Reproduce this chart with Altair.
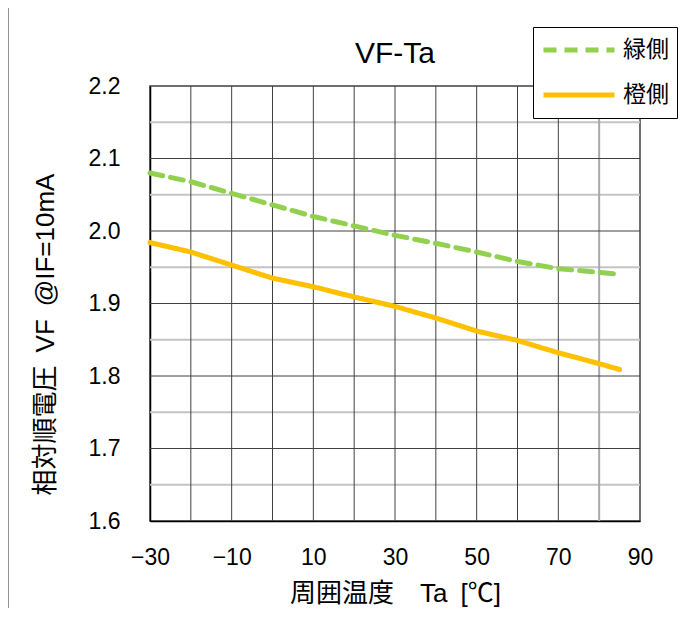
import altair as alt
import pandas as pd

# ---- data ----
ta = [-30, -20, -10, 0, 10, 20, 30, 40, 50, 60, 70, 80, 85]
vf_green = [2.080, 2.068, 2.052, 2.036, 2.020, 2.007, 1.994, 1.983, 1.971, 1.958, 1.948, 1.943, 1.940]
vf_orange = [1.984, 1.971, 1.953, 1.935, 1.923, 1.909, 1.896, 1.880, 1.862, 1.849, 1.832, 1.817, 1.809]
series = ["緑側", "橙側"]
colors = ["#92D050", "#FFC000"]

x_ticks = [-30, -10, 10, 30, 50, 70, 90]
y_ticks = [1.6, 1.7, 1.8, 1.9, 2.0, 2.1, 2.2]
x_grid_dark = [-20, -10, 0, 10, 20, 30, 40, 50, 60, 70]
x_grid_light = [80]
y_grid_major = [1.7, 1.8, 1.9, 2.0, 2.1]
y_grid_minor = [1.65, 1.75, 1.85, 1.95, 2.05, 2.15]

FONT = "Liberation Sans, Arial, Noto Sans CJK JP, sans-serif"

df = pd.DataFrame(
    [{"Ta": t, "VF": v, "s": series[0]} for t, v in zip(ta, vf_green)]
    + [{"Ta": t, "VF": v, "s": series[1]} for t, v in zip(ta, vf_orange)]
)

xs = alt.Scale(domain=[-30, 90], nice=False, zero=False)
ys = alt.Scale(domain=[1.6, 2.2], nice=False, zero=False)

xaxis = alt.Axis(values=x_ticks, title="周囲温度\u3000Ta\u2002[℃]", grid=False, ticks=False, labelFlush=False,
                 labelPadding=25, titlePadding=11, domainColor="#000000", domainWidth=1.5)
yaxis = alt.Axis(values=y_ticks, format=".1f", title="相対順電圧\u2002VF\u2002@IF=10mA", grid=False,
                 ticks=False, labelPadding=30, titlePadding=30, titleY=248,
                 domainColor="#000000", domainWidth=1.5)

def vgrid(vals, color, width):
    return alt.Chart(pd.DataFrame({"Ta": vals})).mark_rule(color=color, strokeWidth=width).encode(
        x=alt.X("Ta:Q", scale=xs, axis=xaxis)
    )

def hgrid(vals, color, width):
    return alt.Chart(pd.DataFrame({"VF": vals})).mark_rule(color=color, strokeWidth=width).encode(
        y=alt.Y("VF:Q", scale=ys, axis=yaxis)
    )

grid = (
    hgrid(y_grid_minor, "#c4c4c4", 2)
    + vgrid(x_grid_light, "#a8a8a8", 2)
    + vgrid(x_grid_dark, "#404040", 1)
    + hgrid(y_grid_major, "#404040", 1)
)

leg = alt.Legend(orient="none", legendX=383, legendY=-59)
lines = alt.Chart(df).mark_line(strokeWidth=5, strokeCap="round", strokeJoin="round").encode(
    x=alt.X("Ta:Q", scale=xs, axis=xaxis),
    y=alt.Y("VF:Q", scale=ys, axis=yaxis),
    color=alt.Color("s:N", scale=alt.Scale(domain=series, range=colors), title=None, legend=leg),
    strokeDash=alt.StrokeDash("s:N", scale=alt.Scale(domain=series, range=[[13, 8], [1, 0]]), title=None, legend=leg),
    order=alt.Order("Ta:Q"),
)

# outer frame (decorative, left / top / right edges)
frame = (
    alt.Chart().mark_rule(color="#707070", strokeWidth=1.5).encode(x=alt.value(-142), y=alt.value(-79), y2=alt.value(530))
    + alt.Chart().mark_rule(color="#404040", strokeWidth=1.5).encode(x=alt.value(-142), x2=alt.value(537), y=alt.value(-79))
    + alt.Chart().mark_rule(color="#707070", strokeWidth=1.5).encode(x=alt.value(537), y=alt.value(-79), y2=alt.value(530))
)

chart = (
    alt.layer(grid, lines, frame)
    .properties(
        width=490, height=435,
        title=alt.Title("VF-Ta", fontSize=30, fontWeight="normal", font=FONT, color="#000000",
                        offset=18, frame="group", dy=81),
        padding={"left": 142, "top": 78, "right": 41, "bottom": 87},
        autosize=alt.AutoSizeParams(type="none"),
    )
    .configure_view(stroke="#404040", strokeWidth=1.5)
    .configure_axis(labelFont=FONT, titleFont=FONT, labelFontSize=23, titleFontSize=26,
                    labelColor="#000000", titleColor="#000000", titleFontWeight="normal")
    .configure_legend(labelFont=FONT, labelFontSize=23, labelColor="#000000",
                      symbolType="M-1,0H1", symbolSize=5041, symbolStrokeWidth=5,
                      strokeColor="#000000", fillColor="#ffffff", clipHeight=30,
                      padding=8, rowPadding=15, labelOffset=6, cornerRadius=0)
)

chart.save("out.html", embed_options={"renderer": "svg", "actions": False})
